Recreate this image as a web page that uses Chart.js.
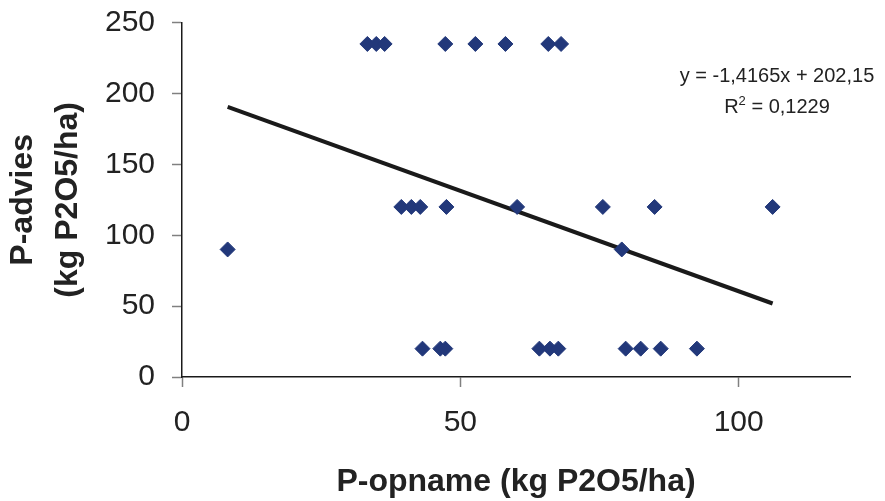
<!DOCTYPE html>
<html>
<head>
<meta charset="utf-8">
<script src="https://cdn.jsdelivr.net/npm/chart.js@4/dist/chart.umd.min.js"></script>
<style>
  html, body { margin: 0; padding: 0; background: #ffffff; }
  #wrap { width: 885px; height: 501px; position: relative; }
</style>
</head>
<body>
<div id="wrap"><canvas id="c" width="885" height="501"></canvas></div>
<script>
// P-opname (kg P2O5/ha) per field
const pUptake = [
  33.3, 34.9, 36.4, 47.3, 52.7, 58.1, 65.8, 68.1,
  39.4, 41.2, 42.8, 47.5, 60.2, 75.6, 84.9, 106.1,
  8.2, 79.0,
  43.2, 46.4, 47.3, 64.2, 66.1, 67.6, 79.7, 82.4, 86.0, 92.5
];
// P-advies (kg P2O5/ha) per field
const pAdvice = [
  235, 235, 235, 235, 235, 235, 235, 235,
  120, 120, 120, 120, 120, 120, 120, 120,
  90, 90,
  20, 20, 20, 20, 20, 20, 20, 20, 20, 20
];
const trendSlope = -1.4165;
const trendIntercept = 202.15;
const equationLine = 'y = -1,4165x + 202,15';
const r2Value = '0,1229';
const xTickValues = [0, 50, 100];
const yTickValues = [0, 50, 100, 150, 200, 250];

const points = pUptake.map((x, i) => ({ x: x, y: pAdvice[i] }));
const xMin = Math.min(...pUptake), xMax = Math.max(...pUptake);
const trend = [
  { x: xMin, y: trendSlope * xMin + trendIntercept },
  { x: xMax, y: trendSlope * xMax + trendIntercept }
];

const textColor = '#222222';
const fontFamily = '"Liberation Sans", Arial, sans-serif';

const equationPlugin = {
  id: 'equation',
  afterDraw(chart) {
    const ctx = chart.ctx;
    const ca = chart.chartArea;
    const cx = ca.right - 73;
    const y1 = ca.top + 59;
    const y2 = ca.top + 90;
    ctx.save();
    ctx.fillStyle = textColor;
    ctx.textBaseline = 'alphabetic';
    ctx.font = '20px ' + fontFamily;
    ctx.textAlign = 'center';
    ctx.fillText(equationLine, cx, y1);
    // R² line
    ctx.textAlign = 'left';
    const partA = 'R', partC = ' = ' + r2Value;
    ctx.font = '20px ' + fontFamily;
    const wA = ctx.measureText(partA).width;
    const wC = ctx.measureText(partC).width;
    ctx.font = '13px ' + fontFamily;
    const wB = ctx.measureText('2').width;
    let x0 = cx - (wA + wB + wC) / 2;
    ctx.font = '20px ' + fontFamily;
    ctx.fillText(partA, x0, y2);
    ctx.font = '13px ' + fontFamily;
    ctx.fillText('2', x0 + wA, y2 - 8);
    ctx.font = '20px ' + fontFamily;
    ctx.fillText(partC, x0 + wA + wB, y2);
    ctx.restore();
  }
};

new Chart(document.getElementById('c'), {
  type: 'scatter',
  data: {
    datasets: [
      {
        type: 'line',
        data: trend,
        borderColor: '#1a1a1a',
        borderWidth: 4,
        pointRadius: 0,
        fill: false,
        order: 2
      },
      {
        data: points,
        pointStyle: 'rectRot',
        pointRadius: 7.5,
        backgroundColor: '#22387A',
        borderColor: '#22387A',
        borderWidth: 1,
        order: 1
      }
    ]
  },
  options: {
    responsive: false,
    animation: false,
    events: [],
    layout: { padding: { top: 22.7, right: 35, bottom: 0, left: 0 } },
    plugins: { legend: { display: false }, tooltip: { enabled: false } },
    scales: {
      x: {
        type: 'linear',
        min: 0,
        max: 120,
        afterBuildTicks: s => { s.ticks = xTickValues.map(v => ({ value: v })); },
        afterFit: s => { s.height = 124; s.paddingLeft = 0; s.paddingRight = 0; },
        ticks: {
          font: { family: fontFamily, size: 30 },
          color: textColor,
          padding: 18,
          maxRotation: 0,
          autoSkip: false
        },
        grid: { drawOnChartArea: false, drawTicks: true, tickLength: 10, color: '#808080', tickWidth: 1.5 },
        border: { display: true, color: '#1a1a1a', width: 1.5 },
        title: {
          display: true,
          text: 'P-opname (kg P2O5/ha)',
          color: textColor,
          font: { family: fontFamily, size: 32, weight: 'bold', lineHeight: 1.2 },
          padding: { top: 0, bottom: 0 }
        }
      },
      y: {
        type: 'linear',
        min: 0,
        max: 250,
        afterBuildTicks: s => { s.ticks = yTickValues.map(v => ({ value: v })); },
        afterFit: s => { s.width = 182; s.paddingTop = 0; s.paddingBottom = 0; },
        ticks: {
          font: { family: fontFamily, size: 30 },
          color: textColor,
          padding: 17,
          autoSkip: false
        },
        grid: { drawOnChartArea: false, drawTicks: true, tickLength: 10, color: '#808080', tickWidth: 1.5 },
        border: { display: true, color: '#1a1a1a', width: 1.5 },
        title: {
          display: true,
          text: ['P-advies', '(kg P2O5/ha)'],
          color: textColor,
          font: { family: fontFamily, size: 32, weight: 'bold', lineHeight: 1.4 },
          padding: { top: 1, bottom: 0 }
        }
      }
    }
  },
  plugins: [equationPlugin]
});
</script>
</body>
</html>
